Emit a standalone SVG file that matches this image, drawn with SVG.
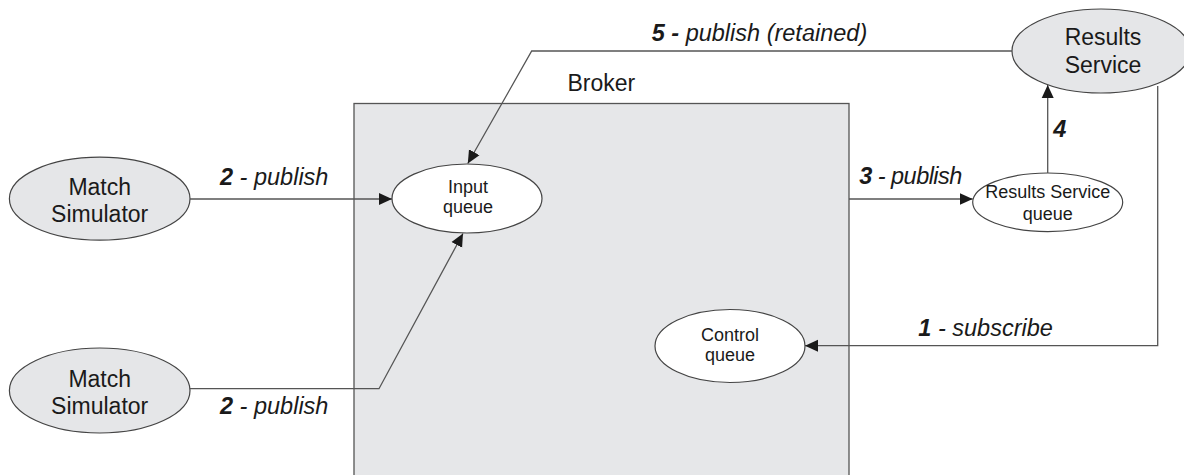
<svg xmlns="http://www.w3.org/2000/svg" width="1184" height="475" viewBox="0 0 1184 475">
  <style>
    text { font-family: "Liberation Sans", Arial, sans-serif; fill: #1a1a1a; }
    .big { font-size: 23px; }
    .small { font-size: 18px; }
    .lbl { font-size: 23.5px; font-style: italic; }
    .num { font-weight: bold; }
    .shaded { fill: #e5e6e8; stroke: #444; stroke-width: 1.2; }
    .queue { fill: #ffffff; stroke: #444; stroke-width: 1.2; }
    .wire { fill: none; stroke: #555; stroke-width: 1.3; }
  </style>
  <defs>
    <marker id="arrow" markerUnits="userSpaceOnUse" markerWidth="14" markerHeight="14" viewBox="0 0 14 14" refX="13" refY="7" orient="auto">
      <path d="M0,1 L13,7 L0,13 z" fill="#1a1a1a"/>
    </marker>
  </defs>

  <rect width="1184" height="475" fill="#ffffff"/>

  <!-- broker container -->
  <g id="broker">
    <rect x="354" y="103.5" width="495" height="390" fill="#e6e7e9" stroke="#555" stroke-width="1.3"/>
    <text class="big" x="567.5" y="90.7">Broker</text>
  </g>

  <!-- queues inside the broker -->
  <g id="input-queue">
    <ellipse class="queue" cx="467" cy="198.5" rx="75" ry="34.5"/>
    <text class="small" x="468" y="193.3" text-anchor="middle">Input</text>
    <text class="small" x="468" y="213.3" text-anchor="middle">queue</text>
  </g>

  <g id="control-queue">
    <ellipse class="queue" cx="730" cy="346" rx="75" ry="36.5"/>
    <text class="small" x="730" y="340.5" text-anchor="middle">Control</text>
    <text class="small" x="730" y="361" text-anchor="middle">queue</text>
  </g>

  <!-- clients -->
  <g id="match-simulator-1">
    <ellipse class="shaded" cx="99.7" cy="198.7" rx="90.3" ry="41.5"/>
    <text class="big" x="99.7" y="195" text-anchor="middle">Match</text>
    <text class="big" x="99.7" y="221.7" text-anchor="middle">Simulator</text>
  </g>

  <g id="match-simulator-2">
    <ellipse class="shaded" cx="99.7" cy="390.5" rx="90.3" ry="42.5"/>
    <text class="big" x="99.7" y="386.7" text-anchor="middle">Match</text>
    <text class="big" x="99.7" y="414.3" text-anchor="middle">Simulator</text>
  </g>

  <g id="results-service-queue">
    <ellipse class="queue" cx="1047.7" cy="202.3" rx="75" ry="29.3"/>
    <text class="small" x="1047.8" y="198.3" text-anchor="middle">Results Service</text>
    <text class="small" x="1047.8" y="220" text-anchor="middle">queue</text>
  </g>

  <g id="results-service">
    <ellipse class="shaded" cx="1101" cy="51" rx="89" ry="42"/>
    <text class="big" x="1103" y="45" text-anchor="middle">Results</text>
    <text class="big" x="1103" y="72.7" text-anchor="middle">Service</text>
  </g>

  <!-- message flows -->
  <g id="connectors">
    <!-- 2: first simulator publishes -->
    <line class="wire" x1="190" y1="199" x2="392" y2="199" marker-end="url(#arrow)"/>
    <!-- 2: second simulator publishes -->
    <polyline class="wire" points="190,388.7 379,388.7 463,233.5" marker-end="url(#arrow)"/>
    <!-- 3: broker forwards to the results service queue -->
    <line class="wire" x1="849" y1="199" x2="972.7" y2="199" marker-end="url(#arrow)"/>
    <!-- 4: service reads its queue -->
    <line class="wire" x1="1047.7" y1="173" x2="1047.7" y2="85" marker-end="url(#arrow)"/>
    <!-- 1: service subscribes to the control queue -->
    <polyline class="wire" points="1157.7,86 1157.7,345.7 805,345.7" marker-end="url(#arrow)"/>
    <!-- 5: retained publication back to the input queue -->
    <polyline class="wire" points="1012,51 531.7,51 467.8,163.5" marker-end="url(#arrow)"/>

    <text class="lbl" x="220" y="185"><tspan class="num">2</tspan> - publish</text>
    <text class="lbl" x="220" y="414.3"><tspan class="num">2</tspan> - publish</text>
    <text class="lbl" x="859.3" y="184.3" textLength="103" lengthAdjust="spacing"><tspan class="num">3</tspan> - publish</text>
    <text class="lbl num" x="1053.3" y="136.7">4</text>
    <text class="lbl" x="918.3" y="336"><tspan class="num">1</tspan> - subscribe</text>
    <text class="lbl" x="651.7" y="41"><tspan class="num">5 -</tspan> publish (retained)</text>
  </g>
</svg>
